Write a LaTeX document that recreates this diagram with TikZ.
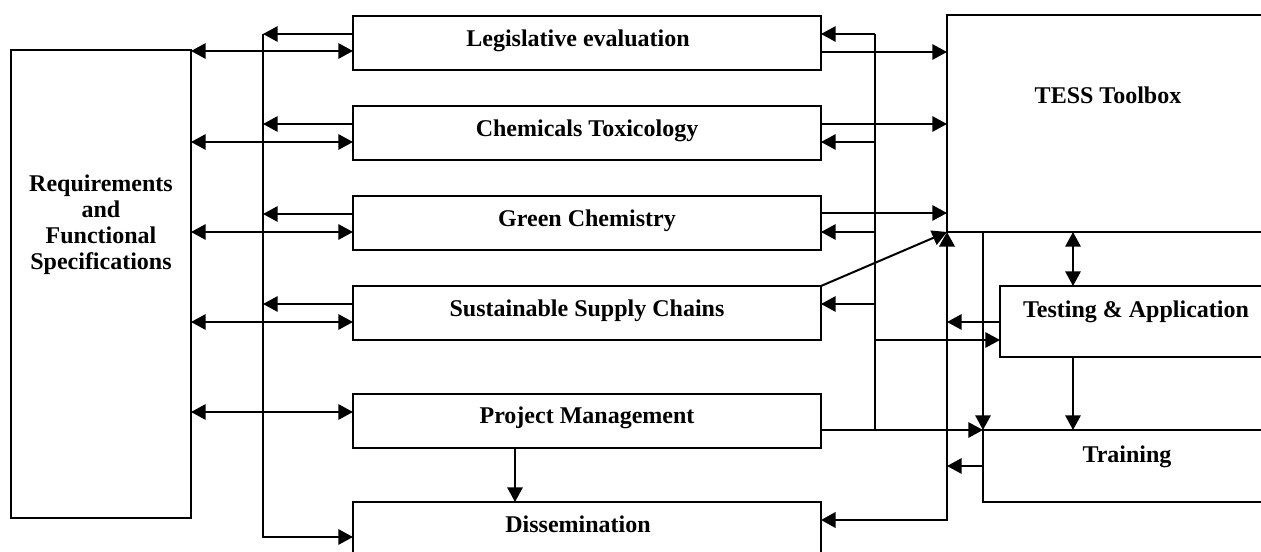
\documentclass[tikz,border=0pt]{standalone}
\usepackage{fontspec}
\setmainfont{Liberation Serif}
\usetikzlibrary{arrows.meta,fit}

\tikzset{every picture/.style={line width=1.5pt}}
\tikzset{
  blk/.style={draw, line width=1.5pt, inner sep=0pt, outer sep=0pt},
  txt/.style={font=\fontsize{18}{19.5}\selectfont\bfseries, anchor=base, align=center},
  >={Triangle[length=11pt,width=11.5pt]}
}

\begin{document}
\begin{tikzpicture}[x=0.75pt,y=0.75pt,yscale=-1,xscale=1]
	\useasboundingbox (0,0) rectangle (1261,552);

	%Shape: Rectangle [req]
	\node[blk, fit={(11,50) (191,518)}] (req) {};
	%Shape: Rectangle [work packages]
	\node[blk, fit={(353,16) (821,70)}] (legis) {};
	\node[blk, fit={(353,106) (821,160)}] (chem) {};
	\node[blk, fit={(353,196) (821,250)}] (green) {};
	\node[blk, fit={(353,286) (821,340)}] (sust) {};
	\node[blk, fit={(353,394) (821,448)}] (pm) {};
	\node[blk, fit={(353,502) (821,560)}] (diss) {};
	%Shape: Rectangle [right side, open to the page edge]
	\node[blk, fit={(947,15) (1270,232)}] (tess) {};
	\node[blk, fit={(1000,286) (1270,357)}] (test) {};
	\node[blk, fit={(983,430) (1270,502)}] (train) {};

	% Text Node
	\node[txt, anchor=center] (reqtxt) at (101,225) {Requirements\\and\\Functional\\Specifications};
	% Text Node
	\node[txt] (legistxt) at (578,47) {Legislative evaluation};
	\node[txt] (chemtxt) at (587,137) {Chemicals Toxicology};
	\node[txt] (greentxt) at (587,227) {Green Chemistry};
	\node[txt] (susttxt) at (587,317) {Sustainable Supply Chains};
	\node[txt] (pmtxt) at (587,424) {Project Management};
	\node[txt] (disstxt) at (578,532) {Dissemination};
	% Text Node
	\node[txt] (tesstxt) at (1108,104) {TESS Toolbox};
	\node[txt] (testtxt) at (1136,318) {Testing \& Application};
	\node[txt] (traintxt) at (1127,462) {Training};

	%Straight Lines [requirements <-> packages]
	\draw[<->] (req.east |- 0,51) -- (legis.west |- 0,51);
	\draw[<->] (req.east |- 0,142) -- (chem.west |- 0,142);
	\draw[<->] (req.east |- 0,232) -- (green.west |- 0,232);
	\draw[<->] (req.east |- 0,322) -- (sust.west |- 0,322);
	\draw[<->] (req.east |- 0,412) -- (pm.west |- 0,412);

	%Straight Lines [left bus]
	\coordinate (lbus) at (263,34);
	\draw[->] (legis.west |- lbus) -- (lbus);
	\draw[->] (chem.west |- 0,124) -- (lbus |- 0,124);
	\draw[->] (green.west |- 0,214) -- (lbus |- 0,214);
	\draw[->] (sust.west |- 0,304) -- (lbus |- 0,304);
	\draw[->] (lbus) -- (lbus |- 0,537) -- (diss.west |- 0,537);

	%Straight Lines [right bus]
	\coordinate (rbus) at (875,34);
	\draw (rbus) -- (rbus |- train.north west) ;
	\draw[->] (rbus) -- (legis.east |- rbus);
	\draw[->] (rbus |- 0,142) -- (chem.east |- 0,142);
	\draw[->] (rbus |- 0,232) -- (green.east |- 0,232);
	\draw[->] (rbus |- 0,304) -- (sust.east |- 0,304);
	\draw[->] (rbus |- 0,340) -- (test.west |- 0,340);

	%Straight Lines [packages -> toolbox]
	\draw[->] (legis.east |- 0,52) -- (tess.west |- 0,52);
	\draw[->] (chem.east |- 0,124) -- (tess.west |- 0,124);
	\draw[->] (green.east |- 0,213) -- (tess.west |- 0,213);
	\draw[->] (sust.north east) -- (tess.south west);
	\draw[->] (pm.east |- train.north west) -- (train.north west);
	\draw[->] (pm.south -| 515,0) -- (diss.north -| 515,0);

	%Straight Lines [toolbox, testing, training]
	\draw[<->, line width=2.2pt] (diss.east |- 0,520) -| (tess.south west);
	\draw[->] (test.west |- 0,322) -- (tess.south west |- 0,322);
	\draw[->] (train.west |- 0,466) -- (tess.south west |- 0,466);
	\draw[->] (train.north west |- tess.south) -- (train.north west);
	\draw[<->] (tess.south -| 1073,0) -- (test.north -| 1073,0);
	\draw[->] (test.south -| 1073,0) -- (train.north -| 1073,0);

\end{tikzpicture}
\end{document}
